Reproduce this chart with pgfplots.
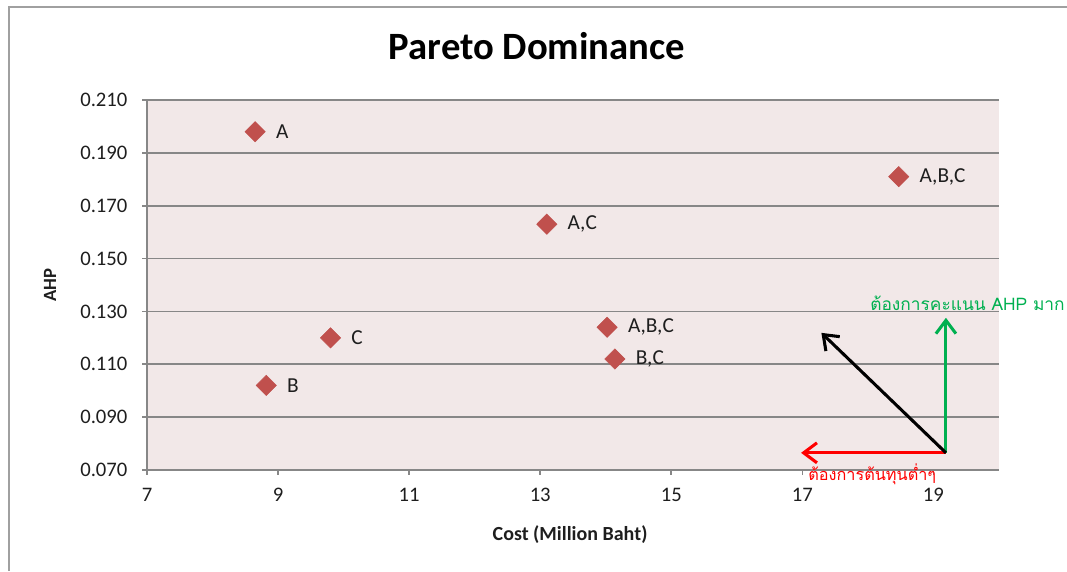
\documentclass[border=0pt]{standalone}
\usepackage{pgfplots}
\pgfplotsset{compat=1.18}
\usepackage{fontspec}
\setmainfont{Carlito}
\newfontfamily\thaifont[Script=Thai]{Loma}
\usetikzlibrary{arrows.meta}

\definecolor{plotbg}{RGB}{242,232,232}
\definecolor{gridgray}{RGB}{135,135,135}
\definecolor{framegray}{RGB}{160,160,160}
\definecolor{markred}{RGB}{192,80,77}
\definecolor{arrowgreen}{RGB}{0,176,80}
\definecolor{txt}{RGB}{30,30,30}

\pgfplotstableread{
x      y      label
8.65   0.198  A
8.82   0.102  B
9.80   0.120  C
13.10  0.163  A,C
14.02  0.124  A,B,C
14.14  0.112  B,C
18.47  0.181  A,B,C
}\paretodata

\begin{document}
\begin{tikzpicture}
  % page size
  \path[use as bounding box] (0pt,0pt) rectangle (800.25pt,-428.25pt);
  % chart area frame
  \draw[framegray, line width=1.5pt] (6.75pt,-428.25pt) -- (6.75pt,-5.25pt) -- (800.25pt,-5.25pt);

  \begin{axis}[
    at={(110.25pt,-352.5pt)}, anchor=south west,
    scale only axis, width=639pt, height=277.5pt,
    xmin=7, xmax=20, ymin=0.07, ymax=0.21,
    xtick={7,9,11,13,15,17,19},
    ytick={0.07,0.09,0.11,0.13,0.15,0.17,0.19,0.21},
    yticklabels={0.070,0.090,0.110,0.130,0.150,0.170,0.190,0.210},
    /pgf/number format/assume math mode=true,
    axis background/.style={fill=plotbg},
    axis x line*=bottom, axis y line*=left,
    axis line style={-, draw=gridgray, line width=1.3pt},
    tick align=outside, major tick length=3.5pt,
    tick style={draw=gridgray, line width=1.3pt},
    ymajorgrids, grid style={draw=gridgray, line width=1.3pt},
    ticklabel style={font=\fontsize{15.5}{18}\selectfont, text=txt},
    yticklabel style={anchor=east, inner sep=0pt, xshift=-11pt},
    xticklabel style={anchor=north, inner sep=0pt, yshift=-10pt},
    title={Pareto Dominance},
    title style={at={(axis description cs:0.4577,1.124)}, anchor=center,
                 font=\bfseries\fontsize{29}{34}\selectfont, text=black},
    xlabel={Cost (Million Baht)},
    xlabel style={at={(axis description cs:0.4965,-0.1757)}, anchor=center,
                  font=\bfseries\fontsize{15}{18}\selectfont, text=txt},
    ylabel={AHP},
    ylabel style={at={(axis description cs:-0.1138,0.5)}, anchor=center, rotate=0,
                  font=\bfseries\fontsize{14}{17}\selectfont, text=txt},
    clip=false,
  ]
    \addplot[only marks, mark=diamond*,
             mark size=7.6pt, mark options={xscale=1.333, fill=markred, draw=markred},
             point meta=explicit symbolic,
             nodes near coords,
             every node near coord/.append style={anchor=west, inner sep=0pt,
               xshift=15.5pt, font=\fontsize{16}{19}\selectfont, text=txt}]
      table[x=x, y=y, meta=label] {\paretodata};

    % preference directions
    \draw[red, line width=2.3pt, -{Straight Barb[length=10pt,width=15pt]}]
      (axis cs:19.19,0.0765) -- (axis cs:16.98,0.0765);
    \draw[arrowgreen, line width=2.3pt, -{Straight Barb[length=10pt,width=15pt]}]
      (axis cs:19.19,0.0765) -- (axis cs:19.19,0.1276);
    \draw[black, line width=2.3pt, -{Straight Barb[length=10pt,width=15pt]}]
      (axis cs:19.19,0.0765) -- (axis cs:17.29,0.1219);
  \end{axis}

  \node[anchor=base west, inner sep=0pt, text=arrowgreen,
        font=\thaifont\fontsize{13}{16}\selectfont] at (652.5pt,-232.5pt)
        {ต้องการคะแนน AHP มาก};
  \node[anchor=base west, inner sep=0pt, text=red,
        font=\thaifont\fontsize{12.2}{15}\selectfont] at (606pt,-360.5pt)
        {ต้องการต้นทุนต่ำๆ};
\end{tikzpicture}
\end{document}
